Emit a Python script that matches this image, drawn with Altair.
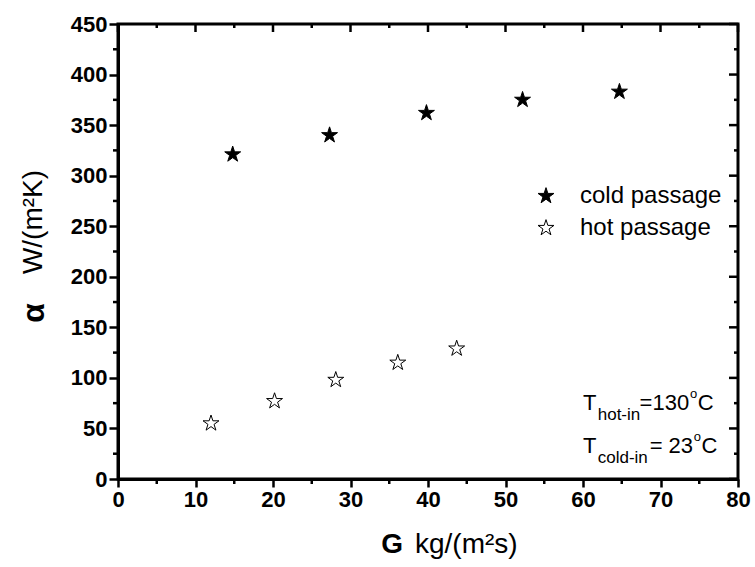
import altair as alt
import pandas as pd

# Heat-transfer coefficient alpha, W/(m^2 K), against mass flux G, kg/(m^2 s)
cold_g = [14.8, 27.3, 39.8, 52.2, 64.7]
cold_alpha = [321, 340, 362, 375, 383]
hot_g = [12.0, 20.2, 28.1, 36.1, 43.7]
hot_alpha = [55, 77, 98, 115, 129]
series_names = ["cold passage", "hot passage"]

# axis ticks
x_major = list(range(0, 81, 10))
x_minor = list(range(5, 80, 10))
y_major = list(range(0, 451, 50))
y_minor = list(range(25, 450, 50))

# inlet-temperature note: pieces, position in data units, font size
note_text = ["T", "hot-in", "=130", "o", "C",
             "T", "cold-in", "= 23", "o", "C"]
note_x = [60.0, 61.9, 67.3, 73.8, 74.8,
          60.0, 61.9, 68.6, 74.3, 75.3]
note_y = [68.2, 58.3, 68.2, 80.0, 68.2,
          25.7, 15.8, 25.7, 37.5, 25.7]
note_size = [22, 17, 22, 13, 22,
             22, 17, 22, 13, 22]

W, H = 620, 455
FONT = "Liberation Sans"
# five-pointed star as a unit symbol path
STAR = ("M0,-1L0.2245,-0.309L0.951,-0.309L0.3633,0.118L0.588,0.809L0,0.382"
        "L-0.588,0.809L-0.3633,0.118L-0.951,-0.309L-0.2245,-0.309Z")

df = pd.DataFrame({
    "G": cold_g + hot_g,
    "alpha": cold_alpha + hot_alpha,
    "series": [series_names[0]] * len(cold_g) + [series_names[1]] * len(hot_g),
})

xscale = alt.Scale(domain=[0, 80], nice=False, zero=False)
yscale = alt.Scale(domain=[0, 450], nice=False, zero=False)

x_axis = alt.Axis(
    values=x_major, title=None, grid=False,
    tickSize=8, tickWidth=2.5, tickColor="black", domainWidth=3, domainColor="black",
    labelFont=FONT, labelFontWeight="bold", labelFontSize=22, labelColor="black",
    labelPadding=2, labelFlush=False,
)
y_axis = alt.Axis(
    values=y_major, title=None, grid=False,
    tickSize=9, tickWidth=2.5, tickColor="black", domainWidth=3, domainColor="black",
    labelFont=FONT, labelFontWeight="bold", labelFontSize=22, labelColor="black",
    labelPadding=2, labelFlush=False,
)

legend = alt.Legend(
    title=None, orient="none", legendX=416, legendY=160, padding=0,
    labelFont=FONT, labelFontSize=24, labelColor="black", labelOffset=22,
    symbolSize=280, symbolStrokeColor="black", symbolStrokeWidth=1,
    symbolType=STAR, rowPadding=8,
)

points = alt.Chart(df).mark_point(
    filled=True, stroke="black", strokeWidth=1, size=280, opacity=1, shape=STAR
).encode(
    x=alt.X("G:Q", scale=xscale, axis=x_axis),
    y=alt.Y("alpha:Q", scale=yscale, axis=y_axis),
    fill=alt.Fill("series:N", scale=alt.Scale(domain=series_names, range=["black", "white"]), legend=legend),
)


# short rules along the frame: x ticks at pixel rows y0..y1, y ticks at pixel columns x0..x1
def x_ticks(vals, y0, y1):
    return alt.Chart(pd.DataFrame({"G": vals})).mark_rule(color="black", strokeWidth=2.5).encode(
        x=alt.X("G:Q", scale=xscale, axis=x_axis),
        y=alt.value(y0), y2=alt.value(y1),
    )


def y_ticks(vals, x0, x1):
    return alt.Chart(pd.DataFrame({"alpha": vals})).mark_rule(color="black", strokeWidth=2.5).encode(
        y=alt.Y("alpha:Q", scale=yscale, axis=y_axis),
        x=alt.value(x0), x2=alt.value(x1),
    )


tick_layers = [
    x_ticks(x_major, 0, 8), x_ticks(x_minor, 0, 4), x_ticks(x_minor, H, H + 5),
    y_ticks(y_major, W - 9, W), y_ticks(y_minor, W - 4, W), y_ticks(y_minor, -5, 0),
]

note = alt.Chart(pd.DataFrame({
    "t": note_text, "G": note_x, "alpha": note_y, "s": note_size,
})).mark_text(align="left", baseline="alphabetic", font=FONT, color="black").encode(
    x=alt.X("G:Q", scale=xscale, axis=x_axis),
    y=alt.Y("alpha:Q", scale=yscale, axis=y_axis),
    text="t:N",
    size=alt.Size("s:Q", scale=None),
)

# axis titles
y_title_sym = alt.Chart(pd.DataFrame({"t": ["α"]})).mark_text(
    font=FONT, fontWeight="bold", fontSize=32, angle=270, align="center", baseline="middle", color="black"
).encode(text="t:N", x=alt.value(-84), y=alt.value(289))
y_title_unit = alt.Chart(pd.DataFrame({"t": ["W/(m²K)"]})).mark_text(
    font=FONT, fontSize=28, angle=270, align="center", baseline="middle", color="black"
).encode(text="t:N", x=alt.value(-84), y=alt.value(198))
x_title_sym = alt.Chart(pd.DataFrame({"t": ["G"]})).mark_text(
    font=FONT, fontWeight="bold", fontSize=28, align="right", baseline="middle", color="black"
).encode(text="t:N", x=alt.value(285), y=alt.value(521))
x_title_unit = alt.Chart(pd.DataFrame({"t": ["kg/(m²s)"]})).mark_text(
    font=FONT, fontSize=28, align="left", baseline="middle", color="black"
).encode(text="t:N", x=alt.value(297), y=alt.value(521))

chart = alt.layer(
    points, *tick_layers, note,
    y_title_sym, y_title_unit, x_title_sym, x_title_unit,
).properties(
    width=W, height=H,
    autosize=alt.AutoSizeParams(type="none"),
    padding={"left": 118, "top": 24, "right": 17, "bottom": 88},
    background="white",
).configure_view(
    stroke="black", strokeWidth=3
)

chart.save("out.html", embed_options={"renderer": "svg", "actions": False})
